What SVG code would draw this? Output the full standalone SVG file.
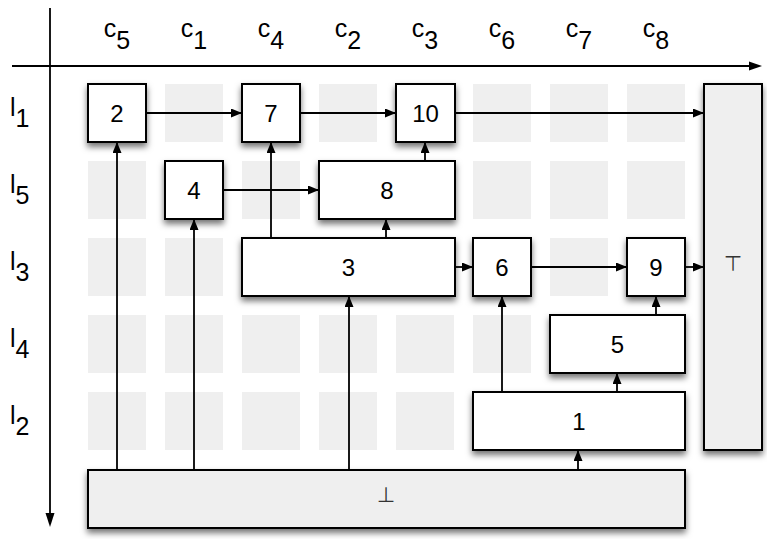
<svg xmlns="http://www.w3.org/2000/svg" width="767" height="539" viewBox="0 0 767 539">
<defs>
<filter id="sh" x="-20%" y="-20%" width="140%" height="150%">
<feDropShadow dx="0" dy="4" stdDeviation="3" flood-color="#000" flood-opacity="0.55"/>
</filter>
<marker id="ah" markerUnits="userSpaceOnUse" markerWidth="11" markerHeight="9" refX="10" refY="4.5" orient="auto">
<path d="M0,0 L11,4.5 L0,9 z" fill="#000"/>
</marker>
</defs>
<style>
.cell{fill:#efefef}
.node rect{fill:#fff;stroke:#000;stroke-width:2;filter:url(#sh)}
.node.g rect{fill:#efefef}
.node text{font-family:"Liberation Sans",Arial,sans-serif;font-size:24px;text-anchor:middle;fill:#000}
.node text.sym{font-family:"DejaVu Sans",sans-serif;font-size:21px;fill:#333}
.axl{font-family:"Liberation Sans",Arial,sans-serif;font-size:25px;fill:#000}
.axis{stroke:#000;stroke-width:1.8;fill:none}
#connectors line{stroke:#000;stroke-width:1.8;marker-end:url(#ah)}
</style>
<rect width="767" height="539" fill="#fff"/>
<g id="grid">
<rect class="cell" x="88" y="84" width="58" height="58"/><rect class="cell" x="165" y="84" width="58" height="58"/><rect class="cell" x="242" y="84" width="58" height="58"/><rect class="cell" x="319" y="84" width="58" height="58"/><rect class="cell" x="396" y="84" width="58" height="58"/><rect class="cell" x="473" y="84" width="58" height="58"/><rect class="cell" x="550" y="84" width="58" height="58"/><rect class="cell" x="627" y="84" width="58" height="58"/>
<rect class="cell" x="88" y="161" width="58" height="58"/><rect class="cell" x="165" y="161" width="58" height="58"/><rect class="cell" x="242" y="161" width="58" height="58"/><rect class="cell" x="319" y="161" width="58" height="58"/><rect class="cell" x="396" y="161" width="58" height="58"/><rect class="cell" x="473" y="161" width="58" height="58"/><rect class="cell" x="550" y="161" width="58" height="58"/><rect class="cell" x="627" y="161" width="58" height="58"/>
<rect class="cell" x="88" y="238" width="58" height="58"/><rect class="cell" x="165" y="238" width="58" height="58"/><rect class="cell" x="242" y="238" width="58" height="58"/><rect class="cell" x="319" y="238" width="58" height="58"/><rect class="cell" x="396" y="238" width="58" height="58"/><rect class="cell" x="473" y="238" width="58" height="58"/><rect class="cell" x="550" y="238" width="58" height="58"/><rect class="cell" x="627" y="238" width="58" height="58"/>
<rect class="cell" x="88" y="315" width="58" height="58"/><rect class="cell" x="165" y="315" width="58" height="58"/><rect class="cell" x="242" y="315" width="58" height="58"/><rect class="cell" x="319" y="315" width="58" height="58"/><rect class="cell" x="396" y="315" width="58" height="58"/><rect class="cell" x="473" y="315" width="58" height="58"/><rect class="cell" x="550" y="315" width="58" height="58"/><rect class="cell" x="627" y="315" width="58" height="58"/>
<rect class="cell" x="88" y="392" width="58" height="58"/><rect class="cell" x="165" y="392" width="58" height="58"/><rect class="cell" x="242" y="392" width="58" height="58"/><rect class="cell" x="319" y="392" width="58" height="58"/><rect class="cell" x="396" y="392" width="58" height="58"/><rect class="cell" x="473" y="392" width="58" height="58"/><rect class="cell" x="550" y="392" width="58" height="58"/><rect class="cell" x="627" y="392" width="58" height="58"/>
</g>
<g id="axes">
<line class="axis" x1="12" y1="66" x2="752" y2="66"/>
<path d="M749,61.5 L762,66 L749,70.5 z" fill="#000"/>
<line class="axis" x1="50" y1="8" x2="50" y2="516"/>
<path d="M45.5,513 L50,527 L54.5,513 z" fill="#000"/>
<text class="axl" x="117" y="37" text-anchor="middle">c<tspan dy="12">5</tspan></text>
<text class="axl" x="194" y="37" text-anchor="middle">c<tspan dy="12">1</tspan></text>
<text class="axl" x="271" y="37" text-anchor="middle">c<tspan dy="12">4</tspan></text>
<text class="axl" x="348" y="37" text-anchor="middle">c<tspan dy="12">2</tspan></text>
<text class="axl" x="425" y="37" text-anchor="middle">c<tspan dy="12">3</tspan></text>
<text class="axl" x="502" y="37" text-anchor="middle">c<tspan dy="12">6</tspan></text>
<text class="axl" x="579" y="37" text-anchor="middle">c<tspan dy="12">7</tspan></text>
<text class="axl" x="656" y="37" text-anchor="middle">c<tspan dy="12">8</tspan></text>
<text class="axl" x="10" y="116">l<tspan dy="11">1</tspan></text>
<text class="axl" x="10" y="193">l<tspan dy="11">5</tspan></text>
<text class="axl" x="10" y="270">l<tspan dy="11">3</tspan></text>
<text class="axl" x="10" y="347">l<tspan dy="11">4</tspan></text>
<text class="axl" x="10" y="424">l<tspan dy="11">2</tspan></text>
</g>
<g id="connectors">
<line x1="146" y1="113" x2="241" y2="113"/>
<line x1="300" y1="113" x2="395" y2="113"/>
<line x1="455" y1="113" x2="703" y2="113"/>
<line x1="117" y1="469" x2="117" y2="143"/>
<line x1="194" y1="469" x2="194" y2="220"/>
<line x1="349" y1="469" x2="349" y2="297"/>
<line x1="578" y1="469" x2="578" y2="451"/>
<line x1="271" y1="238" x2="271" y2="143"/>
<line x1="223" y1="190" x2="318" y2="190"/>
<line x1="386" y1="238" x2="386" y2="220"/>
<line x1="425" y1="161" x2="425" y2="143"/>
<line x1="455" y1="267" x2="472" y2="267"/>
<line x1="531" y1="267" x2="626" y2="267"/>
<line x1="685" y1="267" x2="703" y2="267"/>
<line x1="502" y1="392" x2="502" y2="297"/>
<line x1="617" y1="392" x2="617" y2="374"/>
<line x1="656" y1="315" x2="656" y2="297"/>
</g>
<g id="n2" class="node"><rect x="88" y="84" width="58" height="58"/><text x="117" y="122">2</text></g>
<g id="n7" class="node"><rect x="242" y="84" width="58" height="58"/><text x="271" y="122">7</text></g>
<g id="n10" class="node"><rect x="396" y="84" width="59" height="58"/><text x="425.5" y="122">10</text></g>
<g id="n4" class="node"><rect x="165" y="161" width="58" height="58"/><text x="194" y="199">4</text></g>
<g id="n8" class="node"><rect x="319" y="161" width="136" height="58"/><text x="387" y="199">8</text></g>
<g id="n3" class="node"><rect x="242" y="238" width="213" height="58"/><text x="348.5" y="276">3</text></g>
<g id="n6" class="node"><rect x="473" y="238" width="58" height="58"/><text x="502" y="276">6</text></g>
<g id="n9" class="node"><rect x="627" y="238" width="58" height="58"/><text x="656" y="276">9</text></g>
<g id="n5" class="node"><rect x="550" y="315" width="135" height="58"/><text x="617.5" y="353">5</text></g>
<g id="n1" class="node"><rect x="473" y="392" width="212" height="58"/><text x="579" y="430">1</text></g>
<g id="top" class="node g"><rect x="704" y="84" width="58" height="366"/><text class="sym" x="733" y="271">⊤</text></g>
<g id="bottom" class="node g"><rect x="88" y="470" width="597" height="58"/><text class="sym" x="386" y="502">⊥</text></g>
</svg>
